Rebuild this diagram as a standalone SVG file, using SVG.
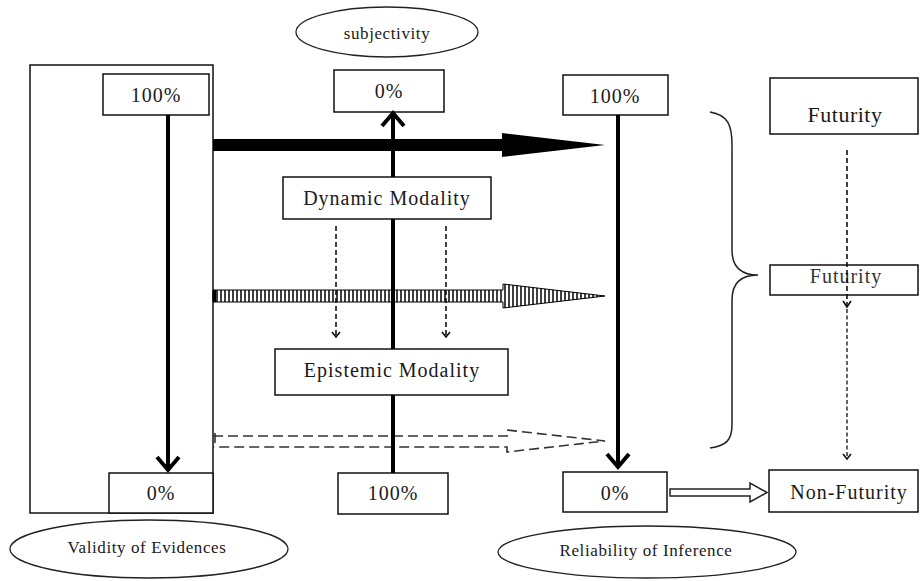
<svg xmlns="http://www.w3.org/2000/svg" width="920" height="581" viewBox="0 0 920 581">
<style>
  .box { fill: #fff; stroke: #111; stroke-width: 1.5; }
  .frame { fill: none; stroke: #111; stroke-width: 1.5; }
  .ell { fill: #fff; stroke: #222; stroke-width: 1.3; }
  .t { font-family: "Liberation Serif", "Times New Roman", serif; font-size: 20px; fill: #1a1a1a; text-anchor: middle; letter-spacing: 1px; }
  .ts { font-family: "Liberation Serif", "Times New Roman", serif; font-size: 17px; fill: #1a1a1a; text-anchor: middle; letter-spacing: 0.6px; }
  .thick { fill: none; stroke: #000; stroke-width: 4; }
  .chev { fill: none; stroke: #000; stroke-width: 4; stroke-linejoin: miter; }
  .dash { fill: none; stroke: #111; stroke-width: 1.6; stroke-dasharray: 5 3; }
  .dash2 { fill: none; stroke: #222; stroke-width: 1.4; stroke-dasharray: 4 2.5; }
  .chevs { fill: none; stroke: #111; stroke-width: 1.6; }
</style>
<defs>
  <pattern id="stripes" patternUnits="userSpaceOnUse" x="0" y="0" width="4" height="10">
    <rect width="4" height="10" fill="#fff"/>
    <line x1="1" y1="0" x2="1" y2="10" stroke="#000" stroke-width="1.5"/>
  </pattern>
</defs>

<g id="frame-left"><rect class="frame" x="30" y="65" width="183" height="448"/></g>

<g id="subjectivity"><ellipse class="ell" cx="387" cy="32" rx="91" ry="25"/><text class="ts" x="387" y="39">subjectivity</text></g>
<g id="left-100"><rect class="box" x="103" y="74" width="106" height="41"/><text class="t" x="156" y="102">100%</text></g>
<g id="center-0"><rect class="box" x="334" y="70" width="110" height="42"/><text class="t" x="389" y="98">0%</text></g>
<g id="right-100"><rect class="box" x="563" y="75" width="105" height="40"/><text class="t" x="615" y="103">100%</text></g>
<g id="futurity-top"><rect class="box" x="770" y="78" width="148" height="56"/><text class="t" x="845" y="122" style="font-size:22px;letter-spacing:0.5px">Futurity</text></g>
<g id="dynamic"><rect class="box" x="283" y="177" width="208" height="42"/><text class="t" x="387" y="205">Dynamic Modality</text></g>
<g id="futurity-mid"><rect class="box" x="770" y="265" width="148" height="30"/><text class="t" x="846" y="283" style="fill:#333">Futurity</text></g>
<g id="epistemic"><rect class="box" x="275" y="349" width="233" height="46"/><text class="t" x="392" y="377">Epistemic Modality</text></g>
<g id="left-0"><rect class="box" x="109" y="473" width="104" height="40"/><text class="t" x="161" y="500">0%</text></g>
<g id="center-100"><rect class="box" x="338" y="473" width="110" height="41"/><text class="t" x="393" y="500">100%</text></g>
<g id="right-0"><rect class="box" x="563" y="472" width="104" height="40"/><text class="t" x="615" y="500">0%</text></g>
<g id="non-futurity"><rect class="box" x="769" y="470" width="149" height="42"/><text class="t" x="849" y="499">Non-Futurity</text></g>
<g id="validity"><ellipse class="ell" cx="149" cy="549" rx="139" ry="29"/><text class="ts" x="147" y="553">Validity of Evidences</text></g>
<g id="reliability"><ellipse class="ell" cx="647" cy="552" rx="149" ry="26"/><text class="ts" x="646" y="556">Reliability of Inference</text></g>

<g id="connectors">
  <!-- horizontal arrows -->
  <polygon points="213,139 502,139 502,133 605,145 502,157 502,151 213,151" fill="#000"/>
  <polygon points="213,290 503,290 503,284 605,296 503,308 503,302 213,302" fill="url(#stripes)" stroke="#000" stroke-width="1"/>
  <rect x="213" y="290" width="3" height="12" fill="#000"/>
  <path d="M215,433 L215,446 M213,436 L507,436 L507,430 L605,441 L507,452 L507,447 L213,447" fill="none" stroke="#333" stroke-width="1.6" stroke-dasharray="10 5"/>
  <!-- left vertical -->
  <line class="thick" x1="168" y1="115" x2="168" y2="469"/>
  <polyline class="chev" points="157,457 168,470 179,457"/>
  <!-- center vertical up (hidden behind modality boxes) -->
  <path class="thick" d="M393,473 L393,395 M393,349 L393,219 M393,177 L393,115"/>
  <polyline class="chev" points="382,126 393,113 404,126"/>
  <!-- right vertical -->
  <line class="thick" x1="618" y1="115" x2="618" y2="466"/>
  <polyline class="chev" points="607,454 618,467 629,454"/>
  <!-- small dashed arrows -->
  <line class="dash" x1="336" y1="226" x2="336" y2="336"/>
  <polyline class="chevs" points="332,332 336,337 340,332"/>
  <line class="dash" x1="446" y1="226" x2="446" y2="336"/>
  <polyline class="chevs" points="442,332 446,337 450,332"/>
  <!-- right dashed arrows -->
  <line class="dash" x1="847" y1="150" x2="847" y2="306"/>
  <polyline class="chevs" points="843,301 847,307 851,301"/>
  <line class="dash2" x1="847" y1="309" x2="847" y2="458"/>
  <polyline class="chevs" points="843,454 847,459 851,454"/>
  <!-- hollow arrow -->
  <polygon points="670,489 750,489 750,483 767,492.5 750,502 750,496 670,496" fill="#fff" stroke="#222" stroke-width="1.5"/>
  <!-- brace -->
  <path d="M710,112 C728,115 732,125 732,145 L732,250 C732,268 742,275 758,275 C742,275 732,282 732,300 L732,425 C732,440 726,446 710,448" fill="none" stroke="#222" stroke-width="1.5"/>
</g>
</svg>
